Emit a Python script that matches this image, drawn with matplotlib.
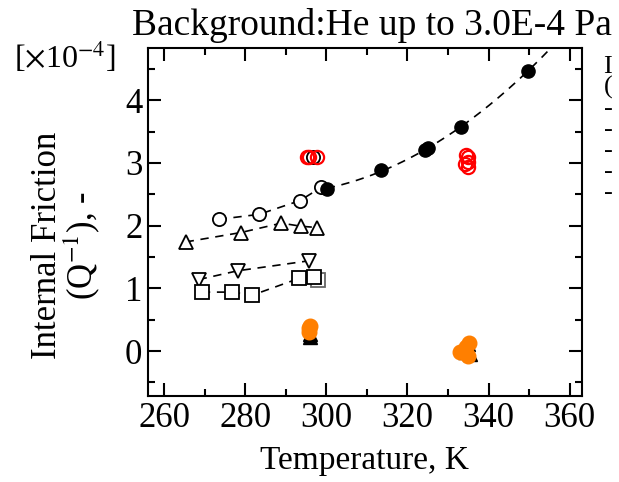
import numpy as np
import matplotlib
matplotlib.use("Agg")
import matplotlib.pyplot as plt
from matplotlib.ticker import MultipleLocator

plt.rcParams["font.family"] = ["Liberation Serif", "DejaVu Serif"]
plt.rcParams["mathtext.fontset"] = "stix"

# open circles + filled circles (one dashed curve)
t_open_c = [273.4, 283.4, 293.5, 298.7]
q_open_c = [2.10, 2.18, 2.40, 2.61]
t_fill_c = [300.1, 313.4, 324.3, 325.1, 333.1, 349.7]
q_fill_c = [2.59, 2.88, 3.20, 3.24, 3.57, 4.47]

# open up-triangles
t_tri_up = [265.3, 278.9, 288.9, 293.8, 297.8]
q_tri_up = [1.74, 1.89, 2.04, 1.99, 1.97]

# open down-triangles
t_tri_dn = [268.5, 278.1, 295.8]
q_tri_dn = [1.14, 1.28, 1.44]

# open squares
t_sq = [269.3, 276.8, 281.7, 293.3, 297.0]
q_sq = [0.94, 0.94, 0.89, 1.16, 1.18]
t_sq_gray = [298.0]
q_sq_gray = [1.13]

# red open circles
t_red = [295.3, 295.6, 297.7, 334.5, 335.0, 334.3, 335.0, 334.8]
q_red = [3.10, 3.10, 3.10, 3.12, 3.10, 2.99, 2.94, 3.02]
t_blk_open = [296.8]
q_blk_open = [3.10]

# black filled markers hidden under orange
t_blk = [295.9, 295.9, 335.0, 334.2, 335.5]
q_blk = [0.22, 0.28, 0.12, -0.02, -0.05]

# orange filled circles
t_orange = [295.8, 295.8, 295.9, 334.5, 332.9, 335.0, 335.2]
q_orange = [0.36, 0.30, 0.40, 0.07, -0.02, -0.08, 0.13]

fig = plt.figure(figsize=(6.19, 4.82), dpi=100)
ax = fig.add_axes([0.239, 0.178, 0.701, 0.722])

ms = 9.5
# dashed connecting lines
ax.plot(t_open_c + [t_fill_c[0]], q_open_c + [q_fill_c[0]], "k--", lw=1.2, dashes=(5, 4))
fit = np.polyfit(t_fill_c, q_fill_c, 2)
tt = np.linspace(t_fill_c[0], 362, 200)
ax.plot(tt, np.polyval(fit, tt), "k--", lw=1.2, dashes=(5, 4))
ax.plot(t_tri_up, q_tri_up, "k--", lw=1.2, dashes=(5, 4))
ax.plot(t_tri_dn, q_tri_dn, "k--", lw=1.2, dashes=(5, 4))
ax.plot(t_sq, q_sq, "k--", lw=1.2, dashes=(5, 4))

ax.plot(t_sq_gray, q_sq_gray, "s", ms=ms, mfc="white", mec="0.4", mew=1.3, ls="none")
ax.plot(t_open_c, q_open_c, "o", ms=ms, mfc="white", mec="k", mew=1.3, ls="none")
ax.plot(t_fill_c, q_fill_c, "o", ms=ms, mfc="k", mec="k", ls="none")
ax.plot(t_tri_up, q_tri_up, "^", ms=ms + 1, mfc="white", mec="k", mew=1.3, ls="none")
ax.plot(t_tri_dn, q_tri_dn, "v", ms=ms + 1, mfc="white", mec="k", mew=1.3, ls="none")
ax.plot(t_sq, q_sq, "s", ms=ms, mfc="white", mec="k", mew=1.3, ls="none")
ax.plot(t_blk_open, q_blk_open, "o", ms=ms, mfc="none", mec="k", mew=1.3, ls="none")
ax.plot(t_red, q_red, "o", ms=ms, mfc="none", mec="red", mew=1.6, ls="none")
ax.plot(t_blk, q_blk, "^", ms=ms, mfc="k", mec="k", ls="none")
ax.plot(t_orange, q_orange, "o", ms=ms + 1, mfc="#ff7f00", mec="#ff7f00", ls="none")

ax.set_xlim(256, 363)
ax.set_ylim(-0.72, 4.83)
ax.xaxis.set_major_locator(MultipleLocator(20))
ax.xaxis.set_minor_locator(MultipleLocator(10))
ax.yaxis.set_major_locator(MultipleLocator(1))
ax.yaxis.set_minor_locator(MultipleLocator(0.5))
ax.tick_params(which="both", direction="in", top=True, right=True, width=1.5, labelsize=25, pad=4)
ax.tick_params(which="major", length=9.5)
ax.tick_params(which="minor", length=5)
for s in ax.spines.values():
    s.set_linewidth(1.5)

ax.set_xlabel("Temperature, K", fontsize=24, labelpad=8)
fig.text(0.076, 0.49, "Internal Friction", rotation=90, fontsize=25, ha="center", va="center")
fig.text(0.132, 0.49, r"(Q$^{-1}$), -", rotation=90, fontsize=25, ha="center", va="center")
fig.text(0.022, 0.88, r"[$\times$10$^{-4}$]", fontsize=23, ha="left", va="center")
fig.text(0.213, 0.948, "Background:He up to 3.0E-4 Pa", fontsize=27, ha="left", va="center")

# clipped legend fragments at right edge
legend_rows = ["I", "(", "-", "-", "-", "-", "-"]
for i, s in enumerate(legend_rows):
    fig.text(0.975, 0.862 - i * 0.0436, s, fontsize=19, ha="left", va="center")

fig.savefig("out.png", dpi=100)
